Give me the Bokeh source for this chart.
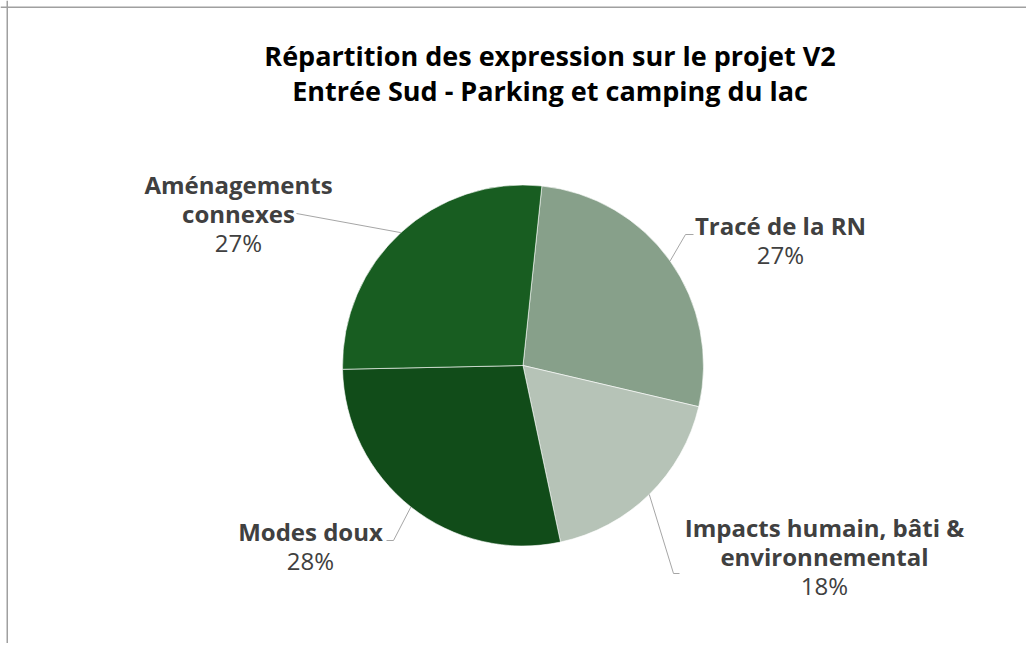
import numpy as np
from bokeh.plotting import figure
from bokeh.models import Span, ColumnDataSource
from bokeh.core.properties import value
from bokeh.embed import file_html
from bokeh.resources import INLINE

# ---------------- data ----------------
categories = ["Tracé de la RN", "Impacts humain, bâti & environnemental",
              "Modes doux", "Aménagements connexes"]
values = [27, 18, 28, 27]
pct_labels = ["27%", "18%", "28%", "27%"]
label_lines = [["Tracé de la RN"],
               ["Impacts humain, bâti &", "environnemental"],
               ["Modes doux"],
               ["Aménagements", "connexes"]]
colors = ["#87a08a", "#b6c3b7", "#114c19", "#185d21"]
title_lines = ["Répartition des expression sur le projet V2",
               "Entrée Sud - Parking et camping du lac"]

# ---------------- layout ----------------
W, H = 1026, 643
def px(X):  # screenshot x -> data x
    return X
def py(Y):  # screenshot y -> data y
    return H - Y

cx, cy, R = px(522.5), py(365), 180.5
start_rot = 6.0  # degrees clockwise from 12 o'clock

# label anchors (screenshot coords): center x, first baseline
label_anchor = [(780, 224.5), (824, 526.5), (310, 531), (238, 183.5)]
line_step = 29
# leader elbows / ends (screenshot coords)
leader_elbow = [(685, 234), (673, 573), (393, 540), (296, 213)]
leader_end = [(693, 234), (679, 573), (386, 540), (296, 213)]

p = figure(width=W, height=H, x_range=(0, W), y_range=(0, H),
           output_backend="svg", toolbar_location=None, min_border=0,
           x_axis_location=None, y_axis_location=None)
p.grid.visible = False
p.outline_line_color = None
p.background_fill_color = "white"
p.border_fill_color = "white"

vals = np.array(values, dtype=float)
frac = vals / vals.sum()
cum = np.concatenate([[0], np.cumsum(frac)])
th0 = start_rot + 360 * cum[:-1]
th1 = start_rot + 360 * cum[1:]
thm = (th0 + th1) / 2

src = ColumnDataSource(dict(
    start=np.radians(90 - th0), end=np.radians(90 - th1),
    color=colors, cat=categories))
p.wedge(x=cx, y=cy, radius=R, start_angle="start", end_angle="end",
        direction="clock", fill_color="color", line_color="white",
        line_width=0.6, source=src)

# leader lines
xs, ys = [], []
for i in range(len(values)):
    t = np.radians(thm[i])
    ex, ey = cx + R * np.sin(t), cy + R * np.cos(t)
    xs.append([ex, px(leader_elbow[i][0]), px(leader_end[i][0])])
    ys.append([ey, py(leader_elbow[i][1]), py(leader_end[i][1])])
p.multi_line(xs=xs, ys=ys, line_color="#a6a6a6", line_width=1)

# labels
nx, ny, nt, qx, qy, qt = [], [], [], [], [], []
for i in range(len(values)):
    ax, ay = label_anchor[i]
    for j, ln in enumerate(label_lines[i]):
        nx.append(px(ax)); ny.append(py(ay + j * line_step)); nt.append(ln)
    qx.append(px(ax)); qy.append(py(ay + len(label_lines[i]) * line_step))
    qt.append(pct_labels[i])

p.text(x=nx, y=ny, text=nt, text_font=value("Open Sans"), text_font_style="bold",
       text_font_size="24px", text_color="#404040", text_align="center",
       text_baseline="alphabetic")
p.text(x=qx, y=qy, text=qt, text_font=value("Open Sans"), text_font_style="normal",
       text_font_size="24px", text_color="#404040", text_align="center",
       text_baseline="alphabetic")

# title
p.text(x=[px(549.5)] * 2, y=[py(55), py(89.5)], text=title_lines,
       text_font=value("Open Sans"), text_font_style="bold",
       text_font_size="27px", text_color="#000000", text_align="center",
       text_baseline="alphabetic")

# chart-area border (left and top, as in reference)
p.add_layout(Span(location=px(6.75), dimension="height", line_color="#a0a0a0", line_width=1.5))
p.add_layout(Span(location=py(6.75), dimension="width", line_color="#a0a0a0", line_width=1.5))

open("out.html", "w").write(file_html(p, INLINE))
